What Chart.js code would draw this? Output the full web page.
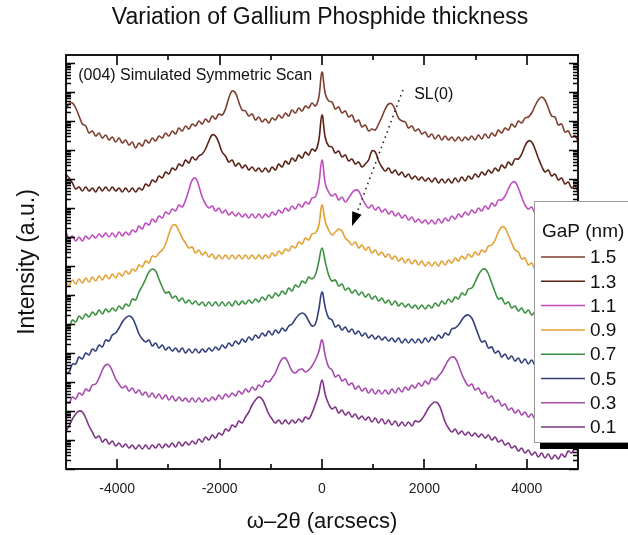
<!DOCTYPE html>
<html>
<head>
<meta charset="utf-8">
<title>Variation of Gallium Phosphide thickness</title>
<script src="https://cdn.jsdelivr.net/npm/chart.js"></script>
<style>
  html, body { margin: 0; padding: 0; background: #fff; }
  #wrap { width: 628px; height: 535px; }
</style>
</head>
<body>
<div id="wrap"><canvas id="xrd" width="628" height="535"></canvas></div>
<script>
// omega-2theta positions (arcsec), shared by every simulated scan
const arcsec = [
  -5005,-4940,-4875,-4810,-4745,-4680,-4615,-4550,-4485,-4420,
  -4355,-4290,-4225,-4160,-4095,-4030,-3965,-3900,-3835,-3770,
  -3705,-3640,-3575,-3510,-3445,-3380,-3315,-3250,-3185,-3120,
  -3055,-2990,-2925,-2860,-2795,-2730,-2665,-2600,-2535,-2470,
  -2405,-2340,-2275,-2210,-2145,-2080,-2015,-1950,-1885,-1820,
  -1755,-1690,-1625,-1560,-1495,-1430,-1365,-1300,-1235,-1170,
  -1105,-1040,-975,-910,-845,-780,-715,-650,-585,-520,
  -455,-390,-325,-260,-195,-130,-65,0,65,130,
  195,260,325,390,455,520,585,650,715,780,
  845,910,975,1040,1105,1170,1235,1300,1365,1430,
  1495,1560,1625,1690,1755,1820,1885,1950,2015,2080,
  2145,2210,2275,2340,2405,2470,2535,2600,2665,2730,
  2795,2860,2925,2990,3055,3120,3185,3250,3315,3380,
  3445,3510,3575,3640,3705,3770,3835,3900,3965,4030,
  4095,4160,4225,4290,4355,4420,4485,4550,4615,4680,
  4745,4810,4875,4940,5005
];

// stacked log intensity (a.u.), one list per GaP thickness
const gap15 = [
  361,365,366,361,353,345,343,336,338,333, 336,331,334,329,332,327,331,326,329,324,
  327,321,326,323,329,326,331,328,333,331, 336,333,338,335,341,338,343,340,345,343,
  348,345,350,347,353,350,355,354,360,371, 378,376,367,359,358,353,355,349,352,347,
  350,346,351,349,354,351,356,353,359,356, 361,358,363,361,366,363,371,397,375,368,
  367,360,362,356,358,352,354,347,349,342, 344,338,340,339,345,352,360,365,365,359,
  351,348,347,341,343,338,340,335,337,332, 335,330,334,329,333,329,332,328,332,328,
  332,329,333,329,334,330,335,331,336,333, 339,336,341,339,345,342,348,346,351,352,
  356,363,369,372,369,361,353,352,344,345, 337,338,332,333,327
];
const gap13 = [
  295,291,286,280,282,278,282,278,281,277, 282,278,282,278,282,278,281,277,281,277,
  281,277,281,279,285,283,289,287,293,291, 297,295,301,299,305,303,309,306,312,309,
  313,315,320,328,334,333,326,317,313,307, 309,303,306,301,304,299,302,298,301,297,
  301,297,302,299,305,302,308,305,311,308, 314,311,317,314,320,318,328,354,331,323,
  322,316,318,312,314,308,310,305,307,302, 305,309,318,317,308,302,298,301,296,299,
  294,297,292,295,290,293,289,292,288,291, 287,291,286,290,286,290,286,291,287,292,
  288,293,290,295,292,297,294,299,296,301, 298,304,301,307,304,310,310,315,323,328,
  327,320,311,303,297,299,293,295,289,291, 285,287,281,283,277
];
const gap11 = [
  238,231,233,228,232,228,233,230,234,231, 235,232,236,232,236,232,237,233,237,234,
  239,237,243,240,246,244,250,247,253,251, 257,255,260,258,264,262,269,279,289,291,
  283,272,265,261,263,258,261,256,259,254, 257,253,256,252,255,251,255,251,255,251,
  255,252,257,254,259,256,261,258,263,260, 265,262,267,265,271,272,284,309,285,277,
  273,275,269,272,267,271,276,279,278,271, 265,261,264,259,262,257,260,255,258,253,
  256,251,254,249,252,247,250,246,249,245, 249,245,250,246,251,248,253,250,255,252,
  257,254,259,256,261,258,263,260,266,263, 269,269,273,280,286,287,281,272,264,260,
  262,256,258,253,256,251,254,249,252,247, 251,246,250,245,249
];
const gap09 = [
  187,184,189,185,190,186,191,187,192,188, 193,189,194,190,195,191,196,193,198,195,
  200,198,204,202,208,206,213,212,216,219, 225,235,243,244,238,231,226,221,222,216,
  219,214,217,212,215,210,214,210,214,210, 214,210,214,210,214,210,214,210,214,210,
  214,211,216,213,218,215,220,218,223,221, 227,225,231,229,235,236,243,264,247,239,
  234,237,240,238,231,228,224,227,221,224, 219,222,216,219,214,217,212,215,210,213,
  208,211,206,210,205,209,204,208,203,207, 203,207,203,208,204,209,206,211,208,213,
  210,215,212,217,214,219,217,223,224,229, 237,242,241,234,226,219,217,210,211,204,
  206,200,203,198,201,196,199,194,197,192, 195,190,193,188,191
];
const gap07 = [
  144,143,149,147,153,150,155,152,157,154, 159,155,160,157,161,158,163,160,165,163,
  170,169,177,183,190,197,200,198,190,182, 176,177,171,173,168,171,166,169,165,168,
  164,167,163,167,163,167,163,167,163,167, 163,168,164,168,165,169,166,170,167,172,
  169,174,171,176,173,178,175,181,178,184, 182,188,186,192,190,194,207,221,207,194,
  188,189,183,185,179,181,176,179,174,177, 172,175,170,173,168,171,166,169,164,168,
  163,166,162,165,161,164,160,164,160,164, 161,166,163,168,165,170,167,172,170,176,
  174,180,181,187,194,199,200,195,186,177, 170,171,165,167,161,163,158,161,156,159,
  154,157,152,156,151,155,150,154,149,153, 148,152,147,151,147
];
const gap05 = [
  96,97,105,105,112,110,116,114,120,118, 124,122,129,128,134,136,141,147,151,153,
  151,144,135,130,127,129,123,126,121,124, 119,122,118,121,117,121,116,120,116,120,
  116,120,117,121,118,122,119,124,121,126, 123,128,125,130,127,132,129,134,131,136,
  133,138,134,139,136,141,138,143,145,150, 154,156,154,148,143,145,159,177,161,151,
  149,142,144,139,142,137,140,135,138,133, 136,131,134,130,133,129,132,128,131,127,
  131,126,130,126,130,126,130,126,131,127, 132,129,134,131,136,134,140,141,144,149,
  153,154,151,143,134,127,128,121,122,116, 118,112,115,110,113,108,111,106,110,105,
  109,104,108,103,107,103,106,102,106,102, 105,101,105,101,105
];
const gap03 = [
  68,66,72,70,76,74,80,78,84,85, 91,99,104,104,98,90,85,81,83,78,
  81,76,79,74,77,72,76,71,75,70, 74,69,73,68,72,68,71,67,71,67,
  71,67,71,68,72,69,74,70,75,72, 76,73,78,75,80,77,82,79,84,82,
  88,87,91,96,104,110,111,105,98,96, 99,100,97,99,103,109,117,129,113,102,
  99,92,94,88,90,84,86,80,83,78, 81,76,80,75,79,75,79,75,80,76,
  81,77,82,79,84,81,86,83,88,85, 91,89,93,97,103,109,112,111,104,95,
  88,83,85,79,81,75,77,71,73,67, 69,63,65,59,61,56,59,54,57,52,
  55,50,53,48,52,47,51,46,50,45, 49,45,48,44,48
];
const gap01 = [
  37,43,50,55,58,57,51,43,37,31, 33,27,30,25,28,23,26,22,25,21,
  24,20,24,20,24,20,24,21,25,21, 25,22,26,22,27,23,27,24,28,25,
  30,27,32,29,34,31,36,34,40,38, 44,42,48,46,52,57,64,69,72,70,
  63,55,50,46,49,45,49,45,49,46, 50,47,52,50,56,65,75,89,74,65,
  60,62,56,59,54,57,52,55,50,53, 49,52,47,51,46,50,45,49,44,48,
  43,47,43,47,43,48,47,50,55,61, 65,67,65,57,47,41,37,40,35,38,
  34,37,33,36,32,35,31,34,29,32, 27,29,24,26,21,23,18,21,16,19,
  14,17,12,16,11,15,10,14,10,15, 12,18,16,21,18
];

const gapLabels = ["1.5", "1.3", "1.1", "0.9", "0.7", "0.5", "0.3", "0.1"];
const gapSeries = [gap15, gap13, gap11, gap09, gap07, gap05, gap03, gap01];
const xTickValues = [-4000, -2000, 0, 2000, 4000];

const lineColors = ["#7e3f30", "#5a2217", "#c04dc0", "#e5a033", "#3b9142", "#323f7c", "#a64ab0", "#7d3486"];
const FONT = "'Liberation Sans', Arial, sans-serif";
const decade = 29; // a.u. per decade on the stacked log axis
const chartTitle = "Variation of Gallium Phosphide thickness";

// annotation anchors in data units
const noteText = "(004) Simulated Symmetric Scan";
const noteAt = [-4760, 393];
const slText = "SL(0)";
const slAt = [1800, 374];
const arrowFrom = [1580, 379];
const arrowTo = [586, 243];

Chart.defaults.font.family = FONT;

const decorations = {
  id: "decorations",
  afterDraw(chart) {
    const { ctx, chartArea: a, scales: { x, y } } = chart;
    ctx.save();

    // title, centred on the page
    ctx.fillStyle = "#111";
    ctx.font = "23px " + FONT;
    ctx.textAlign = "center";
    ctx.textBaseline = "middle";
    ctx.fillText(chartTitle, 320, 18);

    // inward ticks
    ctx.strokeStyle = "#000";
    ctx.lineWidth = 1.6;
    ctx.beginPath();
    for (let v = -4000; v <= 4000; v += 1000) {
      const px = Math.round(x.getPixelForValue(v));
      const len = v % 2000 === 0 ? 10 : 5;
      ctx.moveTo(px, a.bottom); ctx.lineTo(px, a.bottom - len);
      ctx.moveTo(px, a.top); ctx.lineTo(px, a.top + len);
    }
    for (let n = 0; n * decade <= y.max; n++) {
      for (let k = 1; k <= 9; k++) {
        const v = (n + Math.log10(k)) * decade;
        if (v > y.max) break;
        const py = Math.round(y.getPixelForValue(v)) + 0.5;
        const len = k === 1 ? 9 : 5;
        ctx.moveTo(a.left, py); ctx.lineTo(a.left + len, py);
        ctx.moveTo(a.right, py); ctx.lineTo(a.right - len, py);
      }
    }
    ctx.stroke();
    ctx.lineWidth = 1.8;
    ctx.strokeRect(a.left, a.top, a.right - a.left, a.bottom - a.top);

    // texts
    ctx.fillStyle = "#111";
    ctx.font = "16px " + FONT;
    ctx.textAlign = "left";
    ctx.fillText(noteText, x.getPixelForValue(noteAt[0]), y.getPixelForValue(noteAt[1]));
    ctx.fillText(slText, x.getPixelForValue(slAt[0]), y.getPixelForValue(slAt[1]));

    // dotted arrow to SL(0)
    const x0 = x.getPixelForValue(arrowFrom[0]), y0 = y.getPixelForValue(arrowFrom[1]);
    const x1 = x.getPixelForValue(arrowTo[0]), y1 = y.getPixelForValue(arrowTo[1]);
    const ang = Math.atan2(y1 - y0, x1 - x0);
    const head = 14, half = 5;
    const bx = x1 - head * Math.cos(ang), by = y1 - head * Math.sin(ang);
    ctx.strokeStyle = "#222";
    ctx.lineWidth = 1.6;
    ctx.setLineDash([1.5, 4]);
    ctx.beginPath(); ctx.moveTo(x0, y0); ctx.lineTo(bx, by); ctx.stroke();
    ctx.setLineDash([]);
    ctx.fillStyle = "#000";
    ctx.beginPath();
    ctx.moveTo(x1, y1);
    ctx.lineTo(bx + half * Math.sin(ang), by - half * Math.cos(ang));
    ctx.lineTo(bx - half * Math.sin(ang), by + half * Math.cos(ang));
    ctx.closePath();
    ctx.fill();

    // legend box with shadow
    const lx = a.right - 44, ly = a.top + 146, lb = a.bottom - 27;
    ctx.fillStyle = "#000";
    ctx.fillRect(lx + 6, lb, chart.width, 7);
    ctx.fillStyle = "#fff";
    ctx.fillRect(lx, ly, chart.width - lx, lb - ly);
    ctx.strokeStyle = "#9a9a9a";
    ctx.lineWidth = 1;
    ctx.strokeRect(lx + 0.5, ly + 0.5, chart.width, lb - ly);
    ctx.fillStyle = "#111";
    ctx.font = "19px " + FONT;
    ctx.fillText("GaP (nm)", lx + 8, ly + 31);
    chart.data.datasets.forEach((ds, i) => {
      const cy = ly + 56 + i * 24.3;
      ctx.strokeStyle = ds.borderColor;
      ctx.lineWidth = 1.5;
      ctx.beginPath(); ctx.moveTo(lx + 7, cy); ctx.lineTo(lx + 51, cy); ctx.stroke();
      ctx.fillText(ds.label, lx + 56, cy + 1);
    });
    ctx.restore();
  }
};

new Chart(document.getElementById("xrd"), {
  type: "line",
  data: {
    datasets: gapSeries.map((series, i) => ({
      label: gapLabels[i],
      data: series.map((v, j) => ({ x: arcsec[j], y: v })),
      borderColor: lineColors[i],
      borderWidth: 1.6,
      pointRadius: 0,
      tension: 0.4,
      fill: false,
    })),
  },
  options: {
    responsive: false,
    animation: false,
    devicePixelRatio: 1,
    layout: { padding: { left: 0, right: 50, top: 55, bottom: 0 } },
    plugins: {
      legend: { display: false },
      tooltip: { enabled: false },
      title: { display: false },
    },
    scales: {
      x: {
        type: "linear",
        min: -5000,
        max: 5000,
        grid: { display: false, drawTicks: false },
        border: { display: false },
        afterBuildTicks: (axis) => {
          axis.ticks = xTickValues.map((value) => ({ value }));
        },
        afterFit: (axis) => { axis.height = 66; },
        ticks: {
          color: "#222",
          font: { size: 14 },
          padding: 12,
          maxRotation: 0,
          autoSkip: false,
          callback: (value) => String(value),
        },
        title: {
          display: true,
          text: "ω–2θ (arcsecs)",
          color: "#111",
          font: { size: 22 },
          padding: { top: 0, bottom: 0 },
        },
      },
      y: {
        type: "linear",
        min: 0,
        max: 414,
        grid: { display: false },
        border: { display: false },
        ticks: { display: false },
        afterFit: (axis) => { axis.width = 66; },
        title: {
          display: true,
          text: "Intensity (a.u.)",
          color: "#111",
          font: { size: 23 },
          padding: { top: 14, bottom: 0 },
        },
      },
    },
  },
  plugins: [decorations],
});
</script>
</body>
</html>
